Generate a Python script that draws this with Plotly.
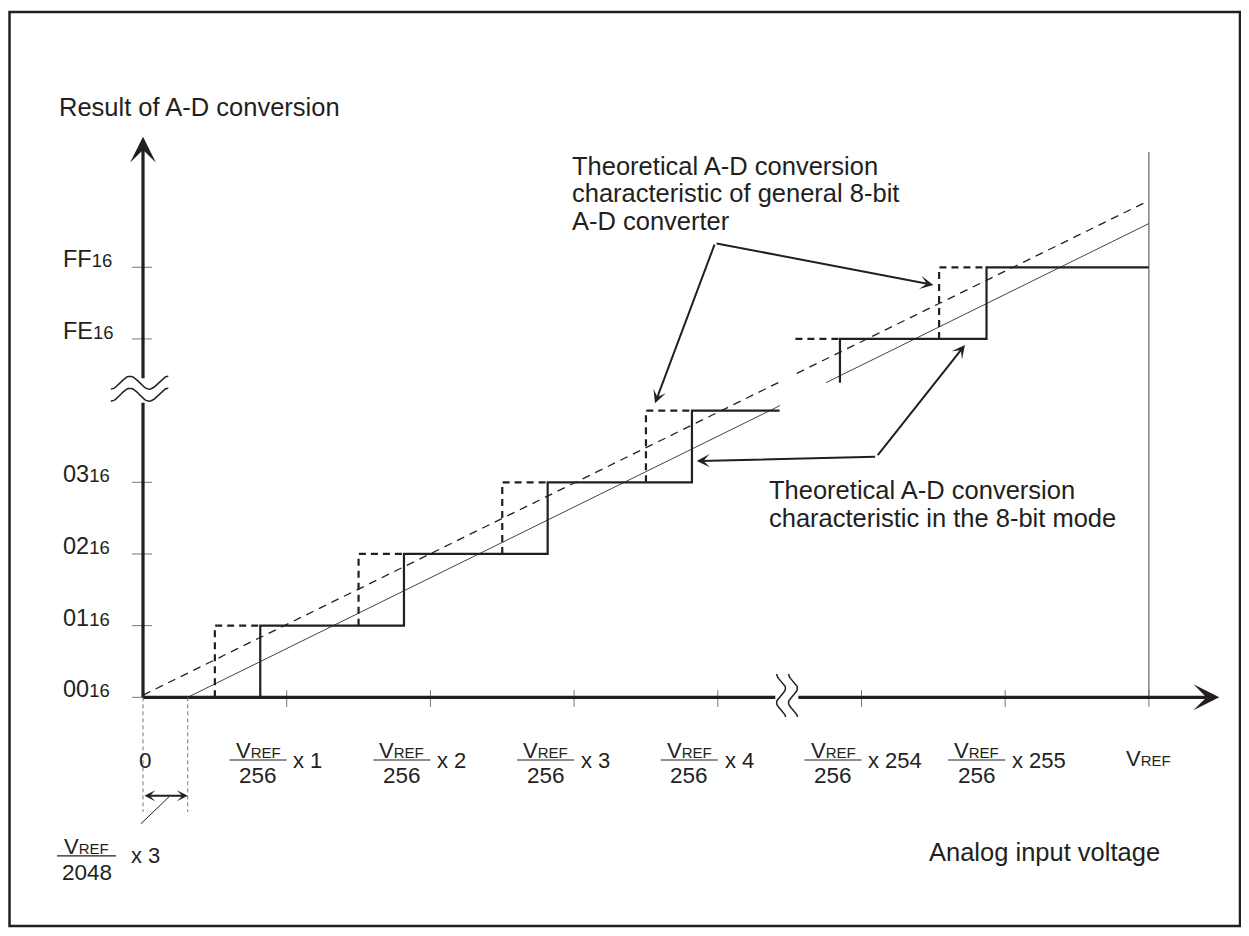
import numpy as np
import plotly.graph_objects as go

INK = "#231f20"
FONT = "Liberation Sans"

# output codes on the broken vertical axis
codes = ["00", "01", "02", "03", "FE", "FF"]
code_levels = [0, 1, 2, 3, 5, 6]

# analog input ticks, multiples of VREF/256 on the broken horizontal axis
tick_pos = [1, 2, 3, 4, 5, 6, 7]
tick_mult = ["1", "2", "3", "4", "254", "255"]

# theoretical characteristic in the 8-bit mode (solid staircase)
mode_x = [0.816, 0.816, 1.816, 1.816, 2.816, 2.816, 3.82, 3.82, 4.43, None,
          4.85, 4.85, 5.87, 5.87, 7.0]
mode_y = [0, 1, 1, 2, 2, 3, 3, 4, 4, None,
          4.39, 5, 5, 6, 6]

# characteristic of a general 8-bit converter (dashed staircase)
gen_x = [0.5, 0.5, 0.816, None, 1.5, 1.5, 1.816, None, 2.5, 2.5, 2.816, None,
         3.5, 3.5, 3.82, None, 4.54, 4.85, None, 5.54, 5.54, 5.87]
gen_y = [0, 1, 1, None, 1, 2, 2, None, 2, 3, 3, None,
         3, 4, 4, None, 5, 5, None, 5, 6, 6]

# ideal straight lines (general converter dashed, 8-bit mode thin solid)
ideal_gen_x = [0, 4.43, None, 4.55, 7.0]
ideal_gen_y = [0.03, 4.40, None, 4.52, 6.93]
ideal_mode_x = [0.311, 4.433, None, 4.753, 7.0]
ideal_mode_y = [0, 4.07, None, 4.39, 6.61]

# offset of the 8-bit mode line: VREF/2048 x 3
offset_x = 0.311

fig = go.Figure()


def line(x, y, width, color=INK, dash=None):
    fig.add_trace(go.Scatter(x=x, y=y, mode="lines", hoverinfo="skip",
                             line=dict(color=color, width=width, dash=dash)))


def label(x, y, text, size, xanchor="left"):
    fig.add_annotation(x=x, y=y, text=text, showarrow=False, xanchor=xanchor,
                       yanchor="middle", borderpad=0,
                       font=dict(family=FONT, size=size, color=INK))


def arrow(tail, tip, width=2, size=1.1, both=False):
    fig.add_annotation(x=tip[0], y=tip[1], ax=tail[0], ay=tail[1], axref="x", ayref="y",
                       text="", showarrow=True, arrowhead=3, arrowsize=size,
                       arrowwidth=width, arrowcolor=INK,
                       arrowside="end+start" if both else "end",
                       startarrowhead=3, startarrowsize=size)


# ideal lines
line(ideal_gen_x, ideal_gen_y, 1.3, dash="8px,6px")
line(ideal_mode_x, ideal_mode_y, 1, color="#444")

# staircases
line(gen_x, gen_y, 2.2, dash="7px,5px")
line(mode_x, mode_y, 2.2)

# VREF limit
line([7, 7], [0, 7.61], 1, color="#444")

# tick marks
tx, ty = [], []
for t in tick_pos:
    tx += [t, t, None]
    ty += [0.1, -0.135, None]
line(tx, ty, 1, color="#777")
yx, yy = [], []
for lv in code_levels:
    yx += [-0.077, 0.063, None]
    yy += [lv, lv, None]
line(yx, yy, 1, color="#777")

# axes (with breaks)
line([0, 4.40], [0, 0], 3.2)
line([0, 0], [0, 4.11], 3.2)
arrow((4.55, 0), (7.49, 0), width=3.2, size=1.35)
arrow((0, 4.43), (0, 7.82), width=3.2, size=1.35)

# break marks
s = np.linspace(0, 1, 40)
for vc in [4.39, 4.222]:
    line(list(-0.024 - 0.2 + 0.4 * s), list(vc - 0.09 * np.cos(3 * np.pi * s)), 1.5)
for uc in [4.44, 4.523]:
    line(list(uc - 0.031 * np.cos(3 * np.pi * s)), list(0.325 - 0.6 * s), 1.5)

# offset dimension at origin
line([0, 0, None, offset_x, offset_x], [0, -1.6, None, 0, -1.6], 1, color="#777", dash="4px,3px")
arrow((0, -1.374), (offset_x, -1.374), width=1.8, size=1.0, both=True)
fig.add_shape(type="line", x0=0.181, y0=-1.388, x1=-0.014, y1=-1.764,
              line=dict(color=INK, width=1))

# y tick labels
for c, lv in zip(codes, code_levels):
    label(-0.565, lv + 0.112, c + "<span style='font-size:18.5px'>16</span>", 23.5)

# x tick labels
vref = "V<span style='font-size:15px'>REF</span>"
label(0.016, -0.882, "0", 22.5, xanchor="center")
for t, m in zip(tick_pos, tick_mult):
    label(t - 0.198, -0.746, vref, 22, xanchor="center")
    label(t - 0.198, -1.094, "256", 22.5, xanchor="center")
    label(t + 0.04, -0.875, "x " + m, 22)
    fig.add_shape(type="line", x0=t - 0.397, x1=t, y0=-0.875, y1=-0.875,
                  line=dict(color=INK, width=1.2))
label(tick_pos[-1], -0.851, vref, 22, xanchor="center")

# VREF/2048 x 3
label(-0.393, -2.08, vref, 22, xanchor="center")
label(-0.393, -2.44, "2048", 22.5, xanchor="center")
label(-0.09, -2.21, "x 3", 22)
fig.add_shape(type="line", x0=-0.598, x1=-0.188, y0=-2.214, y1=-2.214,
              line=dict(color=INK, width=1.2))

# axis titles
label(-0.595, 8.236, "Result of A-D conversion", 25.5)
label(5.46, -2.159, "Analog input voltage", 25.5)

# callouts
label(2.98, 7.413, "Theoretical A-D conversion", 25.5)
label(2.98, 7.036, "characteristic of general 8-bit", 25.5)
label(2.98, 6.645, "A-D converter", 25.5)
arrow((3.981, 6.337), (3.563, 4.102))
arrow((3.981, 6.337), (5.500, 5.753))

label(4.352, 2.893, "Theoretical A-D conversion", 25.5)
label(4.352, 2.502, "characteristic in the 8-bit mode", 25.5)
arrow((5.105, 3.357), (3.853, 3.297))
arrow((5.105, 3.357), (5.720, 4.916))

# frame
fig.add_shape(type="rect", x0=-0.929, x1=7.634, y0=-3.19, y1=9.562,
              line=dict(color=INK, width=2.5))

fig.update_layout(
    width=1233, height=920,
    margin=dict(l=0, r=0, t=0, b=0),
    showlegend=False,
    paper_bgcolor="white",
    plot_bgcolor="white",
    xaxis=dict(visible=False, range=[-0.9395, 7.6409]),
    yaxis=dict(visible=False, range=[-3.219, 9.6177]),
)

fig.write_html("out.html")
